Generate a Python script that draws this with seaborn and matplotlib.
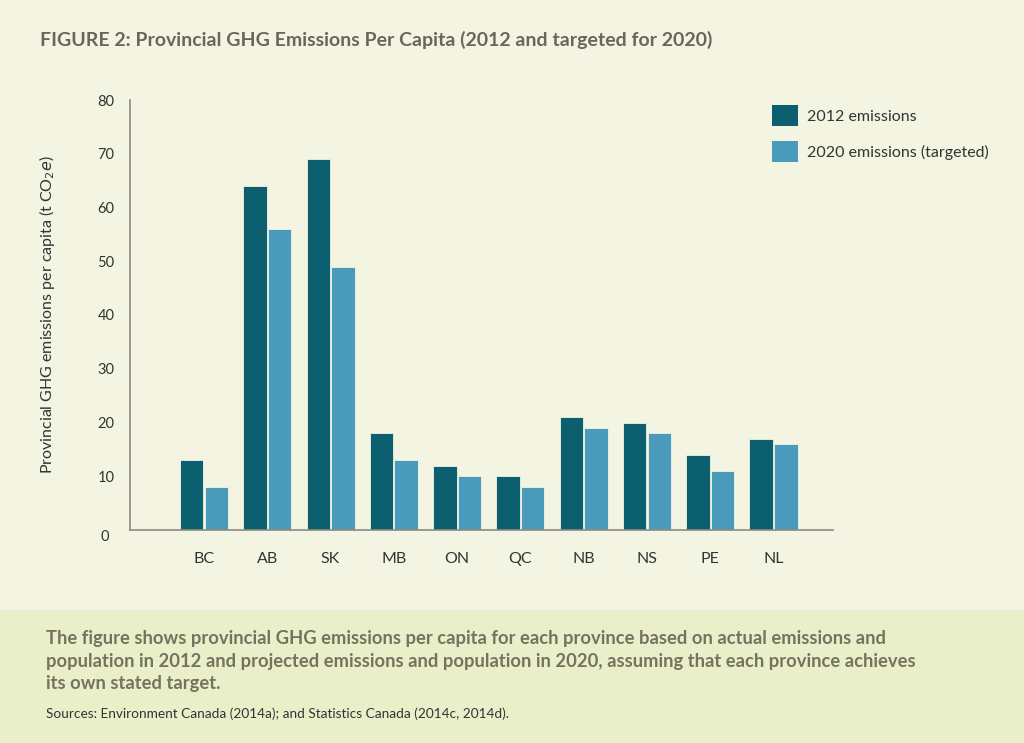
import numpy as np
import pandas as pd
import matplotlib
matplotlib.use("Agg")
import matplotlib.pyplot as plt
import seaborn as sns
from matplotlib.patches import Rectangle

provinces = ["BC", "AB", "SK", "MB", "ON", "QC", "NB", "NS", "PE", "NL"]
emis_2012 = [13, 64, 69, 18, 12, 10, 21, 20, 14, 17]
emis_2020 = [8, 56, 49, 13, 10, 8, 19, 18, 11, 16]
series = ["2012 emissions", "2020 emissions (targeted)"]
colors = ["#0b5f6e", "#4a9abb"]
y_ticks = [10, 20, 30, 40, 50, 60, 70, 80]

df = pd.DataFrame({"province": provinces * 2,
                   "value": emis_2012 + emis_2020,
                   "series": [series[0]] * len(provinces) + [series[1]] * len(provinces)})

sns.set_style("white")
plt.rcParams["font.family"] = ["Lato", "DejaVu Sans"]

bg = "#f3f5e2"
band = "#e9efc9"
text_col = "#6b6657"

fig = plt.figure(figsize=(10.24, 7.43), dpi=100, facecolor=bg)
fig.patches.append(Rectangle((0, 0), 1, 1 - 610 / 743, transform=fig.transFigure,
                             facecolor=band, edgecolor="none", zorder=0))

ax = fig.add_axes([130 / 1024, 1 - 530 / 743, (833 - 130) / 1024, (530 - 100) / 743])
ax.set_facecolor(bg)
sns.barplot(data=df, x="province", y="value", hue="series", palette=colors,
            width=0.78, gap=0.05, saturation=1, ax=ax, legend=False,
            edgecolor=bg, linewidth=0.6)

ax.set_xlim(-1.17, 9.94)
ax.set_ylim(0, 80)
ax.set_yticks(y_ticks)
ax.tick_params(axis="y", direction="in", length=12, width=1.2, color="#8c8a7c",
               pad=11, labelsize=10.5, labelcolor="#333333")
ax.tick_params(axis="x", length=0, pad=16, labelsize=11.5, labelcolor="#333333")
ax.text(-0.03, 0, "0", transform=ax.get_yaxis_transform(), ha="right", va="top",
        fontsize=10.5, color="#333333")
for s in ["top", "right"]:
    ax.spines[s].set_visible(False)
for s in ["left", "bottom"]:
    ax.spines[s].set_color("#8c8a7c")
    ax.spines[s].set_linewidth(1.2)
ax.set_xlabel("")
ax.set_ylabel(r"Provincial GHG emissions per capita (t CO$_2$$\it{e}$)",
              fontsize=11.5, color="#333333", labelpad=29)

handles = [Rectangle((0, 0), 1, 1, facecolor=c, edgecolor="none") for c in colors]
fig.legend(handles, series, loc="upper left", bbox_to_anchor=(758 / 1024, 1 - 91 / 743),
           frameon=False, fontsize=11.5, handlelength=1.6, handleheight=1.6,
           handletextpad=0.55, labelspacing=0.95, labelcolor="#333333")

fig.text(40 / 1024, 1 - 40 / 743,
         "FIGURE 2: Provincial GHG Emissions Per Capita (2012 and targeted for 2020)",
         fontsize=14, fontweight="bold", color=text_col, va="center")
fig.text(46 / 1024, 1 - 661 / 743,
         "The figure shows provincial GHG emissions per capita for each province based on actual emissions and\n"
         "population in 2012 and projected emissions and population in 2020, assuming that each province achieves\n"
         "its own stated target.",
         fontsize=13.2, fontweight="bold", color="#77725f", va="center", linespacing=1.4)
fig.text(46 / 1024, 1 - 714 / 743,
         "Sources: Environment Canada (2014a); and Statistics Canada (2014c, 2014d).",
         fontsize=9.8, color="#333333", va="center")

fig.savefig("out.png", dpi=100, facecolor=bg)
